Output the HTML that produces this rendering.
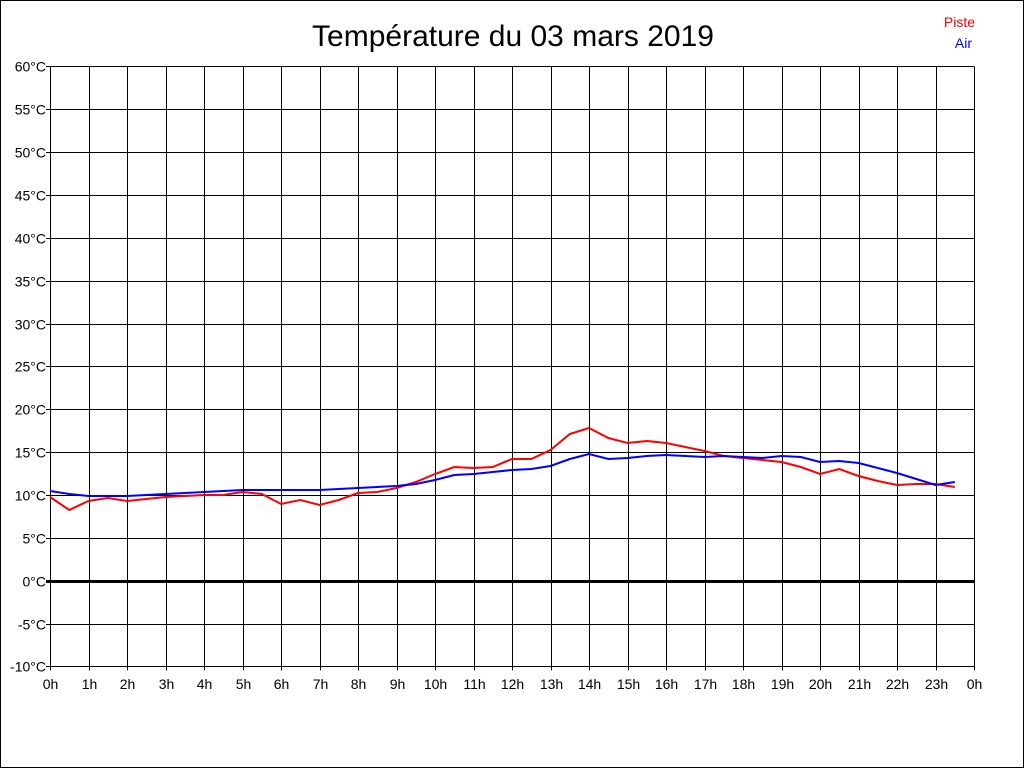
<!DOCTYPE html>
<html><head><meta charset="utf-8"><style>
html,body{margin:0;padding:0;background:#fff}
svg{display:block}
text{font-family:"Liberation Sans",Arial,sans-serif}
</style></head><body>
<svg id="s" width="1024" height="768" xmlns="http://www.w3.org/2000/svg">
<rect x="0.5" y="0.5" width="1023" height="767" fill="#fff" stroke="#000"/>
<text x="513" y="46" font-size="30" text-anchor="middle">Température du 03 mars 2019</text>
<text x="975" y="27" font-size="14" fill="#f00" text-anchor="end">Piste</text>
<text x="972" y="48" font-size="14" fill="#00f" text-anchor="end">Air</text>
<g id="g"></g>
</svg>
<script>
var g=document.getElementById('g'),h='';
var x0=50,x1=974,y0=66.4,y1=666.4;
for(var i=0;i<=24;i++){var x=x0+(x1-x0)*i/24;x=Math.round(x)+0.5;
h+='<line x1="'+x+'" y1="'+y0+'" x2="'+x+'" y2="'+(y1+4)+'" stroke="#000"/>';
h+='<text x="'+x+'" y="689" font-size="14" text-anchor="middle">'+(i%24)+'h</text>';}
for(var t=60;t>=-10;t-=5){var y=Math.round(y0+(60-t)*(y1-y0)/70)+0.5;
h+='<line x1="'+(x0-4)+'" y1="'+y+'" x2="'+x1+'" y2="'+y+'" stroke="#000" stroke-width="'+(t==0?3:1)+'"/>';
h+='<text x="46" y="'+(y+5)+'" font-size="14" text-anchor="end">'+t+'°C</text>';}
var red=[497,510,501,498,501,499,497,496,495,495,492,494,504,500,505,500,493,492,488,482,474,467,468,467,459,459,450,434,428,438,443,441,443,447,451,456,458,460,462,467,474,469,476,481,485,484,484,487];
var blue=[491,494,496,496,496,495,494,493,492,491,490,490,490,490,490,489,488,487,486,484,480,475,474,472,470,469,466,459,454,459,458,456,455,456,457,456,457,458,456,457,462,461,463,468,473,479,485,482];
function pl(a,c){var p=a.map(function(y,i){return (x0+i*(x1-x0)/48).toFixed(1)+','+y}).join(' ');
return '<polyline points="'+p+'" fill="none" stroke="'+c+'" stroke-width="2"/>';}
h+=pl(red,'#f00')+pl(blue,'#00f');
g.innerHTML=h;
</script>
</body></html>
